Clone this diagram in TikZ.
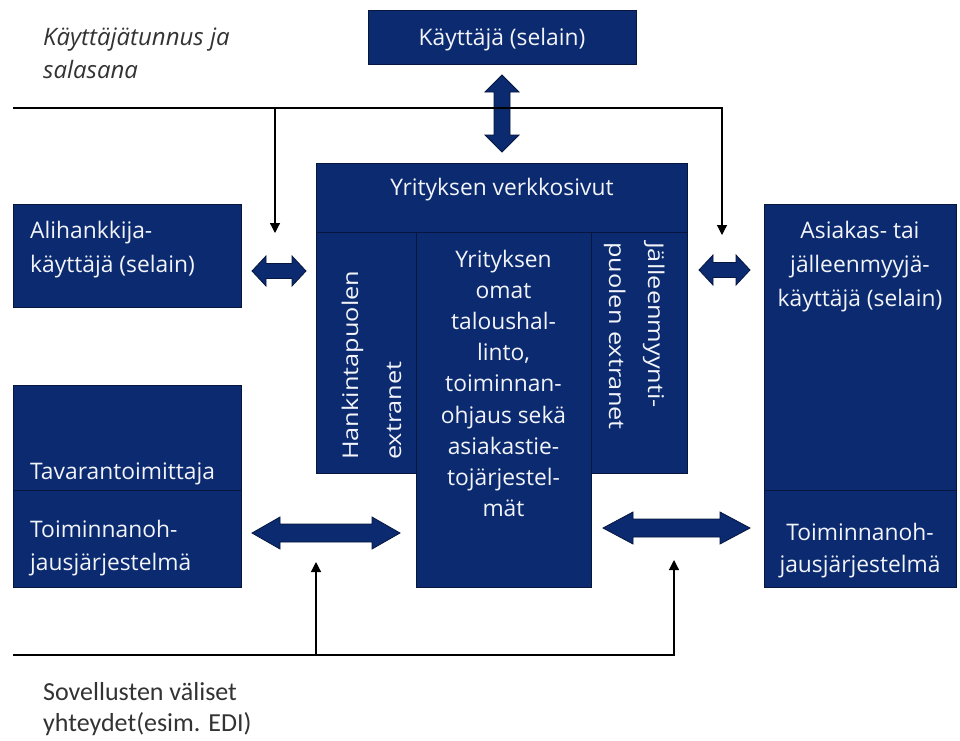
\documentclass[tikz,border=0pt]{standalone}
\usepackage{fontspec}
\setmainfont{Open Sans}
\newfontfamily\calfont{Carlito}
\usetikzlibrary{arrows.meta}
\definecolor{navy}{HTML}{0B2A6F}
\definecolor{edgec}{HTML}{06163E}
\definecolor{greytext}{HTML}{333333}
\definecolor{boxtext}{HTML}{F2F4FA}
\newcommand\hdarr[6]{\filldraw[blockarrow] (#1,#3) -- (#1+#6,#3-#4) -- (#1+#6,#3-#5) -- (#2-#6,#3-#5) -- (#2-#6,#3-#4) -- (#2,#3) -- (#2-#6,#3+#4) -- (#2-#6,#3+#5) -- (#1+#6,#3+#5) -- (#1+#6,#3+#4) -- cycle;}
\newcommand\vdarr[6]{\filldraw[blockarrow] (#1,#2) -- (#1+#4,#2+#6) -- (#1+#5,#2+#6) -- (#1+#5,#3-#6) -- (#1+#4,#3-#6) -- (#1,#3) -- (#1-#4,#3-#6) -- (#1-#5,#3-#6) -- (#1-#5,#2+#6) -- (#1-#4,#2+#6) -- cycle;}
\newcommand\stretchtxt[1]{\scalebox{1.11}[0.95]{#1}}
\tikzset{
  blk/.style={fill=navy,draw=edgec,line width=1pt,inner sep=0pt,outer sep=0pt},
  blockarrow/.style={fill=navy,draw=edgec,line width=0.8pt},
  wt/.style={text=boxtext,font=\fontsize{22.8}{30}\selectfont,inner sep=0pt},
  lt/.style={text=greytext,inner sep=0pt},
  thin/.style={draw=black,line width=1.2pt,-{Triangle[length=10pt,width=10pt]}},
  plain/.style={draw=black,line width=1.2pt}
}
\begin{document}
\begin{tikzpicture}[x=1pt,y=-1pt]
\useasboundingbox[fill=white] (0,0) rectangle (960,740);

% boxes
\node[blk,minimum width=268pt,minimum height=54pt] (user) at (502,37) {};
\node[blk,minimum width=228pt,minimum height=103pt] (sub) at (127,255.5) {};
\node[blk,minimum width=371pt,minimum height=69pt] (web) at (501.5,197.5) {};
\node[blk,minimum width=100pt,minimum height=241pt] (hank) at (366,352.5) {};
\node[blk,minimum width=175pt,minimum height=355pt] (own) at (503.5,409.5) {};
\node[blk,minimum width=96pt,minimum height=241pt] (jall) at (639,352.5) {};
\node[blk,minimum width=228pt,minimum height=105pt] (tav) at (127,437.5) {};
\node[blk,minimum width=228pt,minimum height=97pt] (tavsys) at (127,538.5) {};
\node[blk,minimum width=192pt,minimum height=286pt] (asi) at (860,347) {};
\node[blk,minimum width=192pt,minimum height=97pt] (asisys) at (860,538.5) {};

% box texts
\node[wt,anchor=base] (tuser) at (502,45) {Käyttäjä (selain)};
\node[wt,anchor=base west] (tsub1) at (30,238) {Alihankkija-};
\node[wt,anchor=base west] (tsub2) at (30,272) {käyttäjä (selain)};
\node[wt,anchor=base] (tweb) at (502,195) {Yrityksen verkkosivut};
\node[wt,anchor=base west,rotate=90] (thank1) at (358,460) {\stretchtxt{Hankintapuolen}};
\node[wt,anchor=base west,rotate=90] (thank2) at (401,460) {\stretchtxt{extranet}};
\node[wt,anchor=base west,rotate=-90] (tjall1) at (648,242) {\stretchtxt{Jälleenmyynti-}};
\node[wt,anchor=base west,rotate=-90] (tjall2) at (609,242) {\stretchtxt{puolen extranet}};
\node[wt,anchor=base] (town1) at (503.5,267) {Yrityksen};
\node[wt,anchor=base] (town2) at (503.5,298.2) {omat};
\node[wt,anchor=base] (town3) at (503.5,329.4) {taloushal-};
\node[wt,anchor=base] (town4) at (503.5,360.6) {linto,};
\node[wt,anchor=base] (town5) at (503.5,391.8) {toiminnan-};
\node[wt,anchor=base] (town6) at (503.5,423) {ohjaus sekä};
\node[wt,anchor=base] (town7) at (503.5,454.2) {asiakastie-};
\node[wt,anchor=base] (town8) at (503.5,485.4) {tojärjestel-};
\node[wt,anchor=base] (town9) at (503.5,516.6) {mät};
\node[wt,anchor=base west] (ttav) at (30,479) {Tavarantoimittaja};
\node[wt,anchor=base west] (ttavs1) at (30,537) {Toiminnanoh-};
\node[wt,anchor=base west] (ttavs2) at (30,570) {jausjärjestelmä};
\node[wt,anchor=base] (tasi1) at (860,238) {Asiakas- tai};
\node[wt,anchor=base] (tasi2) at (860,272) {jälleenmyyjä-};
\node[wt,anchor=base] (tasi3) at (860,306) {käyttäjä (selain)};
\node[wt,anchor=base] (tasis1) at (860,540) {Toiminnanoh-};
\node[wt,anchor=base] (tasis2) at (860,572) {jausjärjestelmä};

% free texts
\node[lt,anchor=base west,font=\fontsize{24}{30}\selectfont\itshape] (login1) at (43,45) {Käyttäjätunnus ja};
\node[lt,anchor=base west,font=\fontsize{24}{30}\selectfont\itshape] (login2) at (43,78) {salasana};
\node[lt,anchor=base west,font=\calfont\fontsize{26}{30}\selectfont] (edi1) at (43,700) {Sovellusten väliset};
\node[lt,anchor=base west,font=\calfont\fontsize{26}{30}\selectfont] (edi2) at (43,731) {yhteydet(esim. EDI)};

% block arrows
\vdarr{502}{75}{152}{17}{8}{17}
\hdarr{252}{306}{271}{15}{7.5}{14}
\hdarr{699}{750}{270}{15}{7.5}{14}
\hdarr{252}{400}{533}{16}{9}{28}
\hdarr{603}{750}{528}{16}{9}{30}

% thin connectors
\coordinate (topL) at (13,108);
\coordinate (topR) at (722,108);
\coordinate (topRa) at (722,235);
\coordinate (topB) at (275,108);
\coordinate (topBa) at (275,233);
\draw[thin] (topL) -- (topR) -- (topRa);
\draw[thin] (topB) -- (topBa);

\coordinate (botL) at (13,655);
\coordinate (botR) at (674,655);
\coordinate (botRa) at (674,560);
\coordinate (botB) at (316,655);
\coordinate (botBa) at (316,562);
\draw[thin] (botL) -- (botR) -- (botRa);
\draw[thin] (botB) -- (botBa);
\end{tikzpicture}
\end{document}
